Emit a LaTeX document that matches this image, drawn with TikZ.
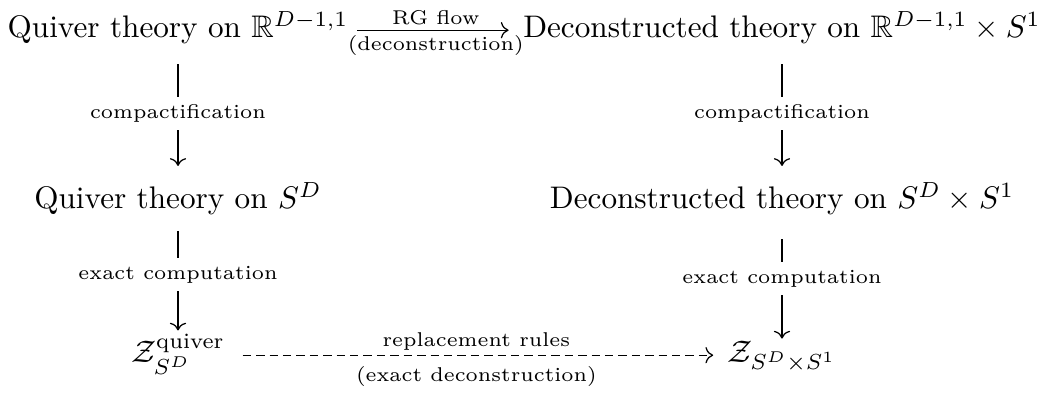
\documentclass[tikz,border=0pt]{standalone}
\usepackage{amsmath,amssymb}
\usetikzlibrary{arrows.meta}
\begin{document}
\begin{tikzpicture}[x=0.3205pt,y=-0.3205pt,
  cell/.style={anchor=base,inner sep=0pt},
  arr/.style={-{Computer Modern Rightarrow}, line width=0.4pt},
  lab/.style={font=\fontsize{6.4}{7.5}\selectfont, fill=white, inner sep=2.5pt},
  hlab/.style={font=\fontsize{6.4}{7.5}\selectfont, inner sep=1.5pt},
  dsh/.style={dash pattern=on 2.7pt off 1.6pt}]
\useasboundingbox (0,0) rectangle (1045,395);
\node[cell] (tl) at (178,38) {Quiver theory on $\mathbb{R}^{D-1,1}$};
\node[cell] (tr) at (782,38) {Deconstructed theory on $\mathbb{R}^{D-1,1}\times S^1$};
\node[cell] (ml) at (178,209) {Quiver theory on $S^D$};
\node[cell] (mr) at (782,209) {Deconstructed theory on $S^D\times S^1$};
\node[cell] (bl) at (178,363) {$\mathcal{Z}^{\text{quiver}}_{S^D}$};
\node[cell] (br) at (782,363) {$\mathcal{Z}_{S^D\times S^1}$};
\draw[arr, shorten <=2.5pt, shorten >=4.5pt] ([yshift=2.5pt]tl.base east) -- node[hlab, above]{RG flow} node[hlab, below]{(deconstruction)} ([yshift=2.5pt]tr.base west);
\draw[arr, shorten <=6.2pt, shorten >=5.2pt] (tl.south) -- node[lab]{compactification} (ml.north);
\draw[arr, shorten <=6.2pt, shorten >=5.2pt] (tr.south) -- node[lab]{compactification} (mr.north);
\draw[arr, shorten <=4.8pt, shorten >=0.8pt] (ml.south) -- node[lab]{exact computation} (bl.north);
\draw[arr, shorten <=7.4pt, shorten >=0.8pt] (mr.south) -- node[lab]{exact computation} (br.north);
\draw[arr, dsh, shorten <=5.5pt, shorten >=4.5pt] ([yshift=2.5pt]bl.base east) -- node[hlab, above]{replacement rules} node[hlab, below, yshift=-2pt]{(exact deconstruction)} ([yshift=2.5pt]br.base west);
\end{tikzpicture}
\end{document}
